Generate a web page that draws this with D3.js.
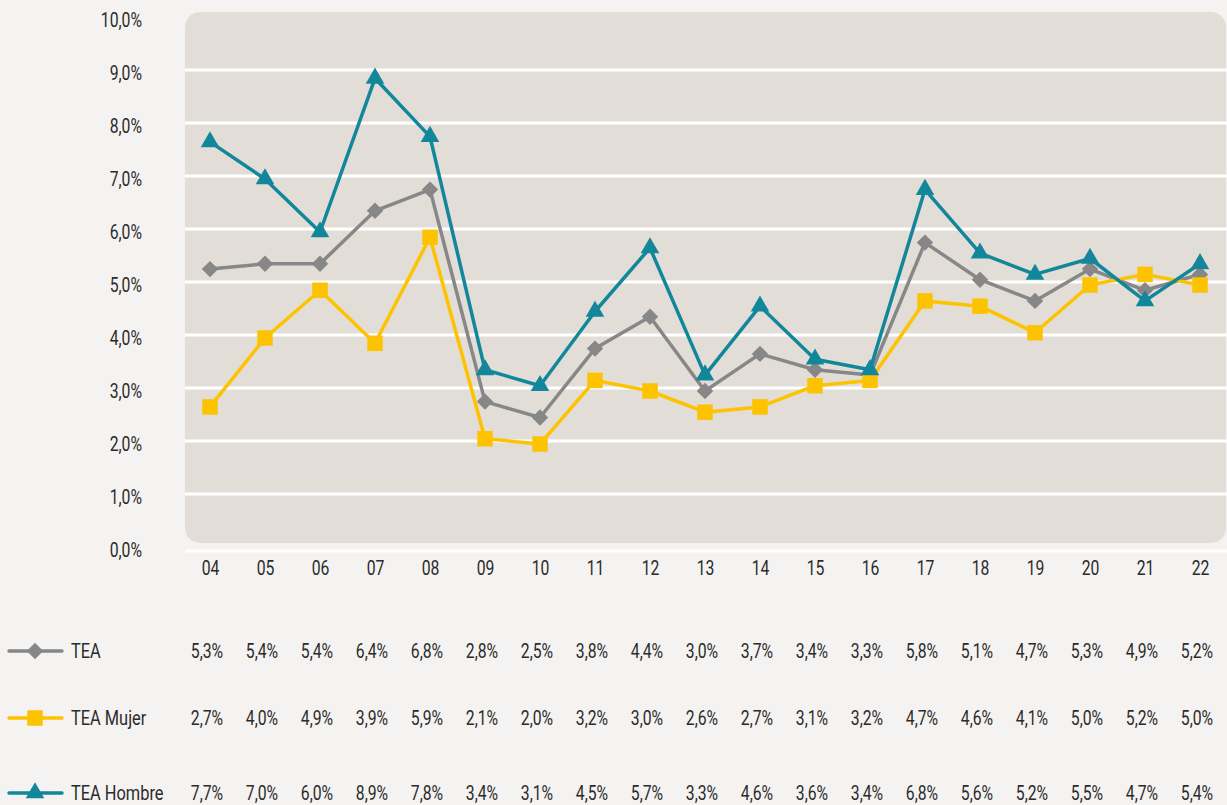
<!DOCTYPE html>
<html><head><meta charset="utf-8">
<script src="https://cdn.jsdelivr.net/npm/d3@7"></script>
<style>
html,body{margin:0;padding:0;background:#f4f3f1;}
text{font-family:Roboto,"Liberation Sans",sans-serif;fill:#2b2b2b;}
</style></head>
<body>
<svg id="c" width="1227" height="805"></svg>
<script>
const categories = ["04","05","06","07","08","09","10","11","12","13","14","15","16","17","18","19","20","21","22"];
const tea =    [5.3,5.4,5.4,6.4,6.8,2.8,2.5,3.8,4.4,3.0,3.7,3.4,3.3,5.8,5.1,4.7,5.3,4.9,5.2];
const mujer =  [2.7,4.0,4.9,3.9,5.9,2.1,2.0,3.2,3.0,2.6,2.7,3.1,3.2,4.7,4.6,4.1,5.0,5.2,5.0];
const hombre = [7.7,7.0,6.0,8.9,7.8,3.4,3.1,4.5,5.7,3.3,4.6,3.6,3.4,6.8,5.6,5.2,5.5,4.7,5.4];
const seriesNames = ["TEA","TEA Mujer","TEA Hombre"];
const yTicks = [0,1,2,3,4,5,6,7,8,9,10];

const FS = 21, SX = 0.75;
const series = [
  {name:seriesNames[0], values:tea, color:"#878787", symbol:d3.symbolSquare, size:135, rot:45, rowY:651},
  {name:seriesNames[1], values:mujer, color:"#fdc300", symbol:d3.symbolSquare, size:240, rot:0, rowY:718},
  {name:seriesNames[2], values:hombre, color:"#12879b", symbol:d3.symbolTriangle, size:150, rot:0, rowY:793}
];

const svg = d3.select("#c");
const x = d3.scalePoint().domain(categories).range([210,1200]);
const y = d3.scaleLinear().domain([0,10]).range([550,20]);

// plot background
svg.append("rect").attr("x",185).attr("y",12).attr("width",1041).attr("height",531)
  .attr("rx",15).attr("ry",15).attr("fill","#e2ded7");

// gridlines
svg.append("g").selectAll("line").data(yTicks.filter(t=>t>0 && t<10)).join("line")
  .attr("x1",185).attr("x2",1227).attr("y1",d=>y(d)-3).attr("y2",d=>y(d)-3)
  .attr("stroke","#ffffff").attr("stroke-width",3);
svg.append("line").attr("x1",185).attr("x2",1227).attr("y1",y(0)+1).attr("y2",y(0)+1)
  .attr("stroke","#ffffff").attr("stroke-width",3);

// y axis labels
const fmt = v => d3.format(".1f")(v).replace(".",",")+"%";
const yAxis = d3.axisLeft(y).tickValues(yTicks).tickFormat(fmt).tickSize(0).tickPadding(0);
const ya = svg.append("g").attr("transform","translate(142,0)").call(yAxis);
ya.select(".domain").remove();
ya.selectAll("text").attr("font-size",FS).attr("font-family",null).attr("fill","#2b2b2b")
  .attr("x",0).attr("transform",`scale(${SX},1)`);

// x axis labels
const xAxis = d3.axisBottom(x).tickSize(0).tickPadding(0);
const xa = svg.append("g").attr("transform","translate(0,560)").call(xAxis);
xa.select(".domain").remove();
xa.selectAll("text").attr("font-size",FS).attr("font-family",null).attr("fill","#2b2b2b")
  .attr("transform",`scale(${SX},1)`);

// lines and markers
const line = d3.line().x((d,i)=>x(categories[i])).y(d=>y(d));
series.forEach(s=>{
  const g = svg.append("g");
  g.append("path").datum(s.values).attr("d",line).attr("fill","none")
    .attr("stroke",s.color).attr("stroke-width",3.5).attr("stroke-linejoin","round");
  g.selectAll("path.m").data(s.values).join("path").attr("class","m")
    .attr("d",d3.symbol().type(s.symbol).size(s.size))
    .attr("transform",(d,i)=>`translate(${x(categories[i])},${y(d)}) rotate(${s.rot})`)
    .attr("fill",s.color);
});

// data table
series.forEach(s=>{
  const g = svg.append("g");
  g.append("line").attr("x1",9).attr("x2",62).attr("y1",s.rowY).attr("y2",s.rowY)
    .attr("stroke",s.color).attr("stroke-width",3.5).attr("stroke-linecap","round");
  g.append("path").attr("d",d3.symbol().type(s.symbol).size(s.size))
    .attr("transform",`translate(35,${s.rowY}) rotate(${s.rot})`).attr("fill",s.color);
  g.append("text").attr("transform",`translate(71,${s.rowY}) scale(0.78,1)`).attr("dy","0.35em")
    .attr("font-size",FS).text(s.name);
  g.selectAll("text.v").data(s.values).join("text").attr("class","v")
    .attr("transform",(d,i)=>`translate(${x(categories[i])-3},${s.rowY}) scale(${SX},1)`)
    .attr("dy","0.35em")
    .attr("text-anchor","middle").attr("font-size",FS).text(d=>fmt(d));
});
</script>
</body></html>
